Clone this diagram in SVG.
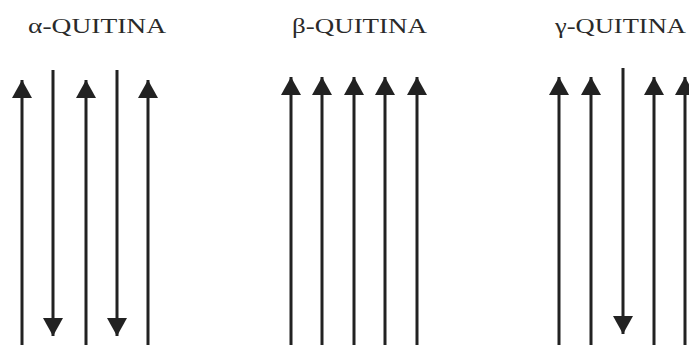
<svg xmlns="http://www.w3.org/2000/svg" width="689" height="347" viewBox="0 0 689 347">
<style>
.lbl{font-family:"Liberation Serif","Times New Roman",serif;font-size:22px;fill:#2a2a2a}
.ch{stroke:#222;stroke-width:3;fill:none}
</style>
<defs>
<marker id="ah" viewBox="0 0 18 20" refX="18" refY="10" markerWidth="18" markerHeight="20" markerUnits="userSpaceOnUse" orient="auto">
<path d="M0,0 L18,10 L0,20 Z" fill="#222"/>
</marker>
</defs>
<rect width="689" height="347" fill="#fff"/>
<g id="alpha">
<text class="lbl" x="28" y="33" textLength="138" lengthAdjust="spacingAndGlyphs">α-QUITINA</text>
<line class="ch" x1="22" y1="345" x2="22" y2="80" marker-end="url(#ah)"/>
<line class="ch" x1="53" y1="70" x2="53" y2="336" marker-end="url(#ah)"/>
<line class="ch" x1="86" y1="345" x2="86" y2="80" marker-end="url(#ah)"/>
<line class="ch" x1="117" y1="70" x2="117" y2="336" marker-end="url(#ah)"/>
<line class="ch" x1="148" y1="345" x2="148" y2="80" marker-end="url(#ah)"/>
</g>
<g id="beta">
<text class="lbl" x="292" y="33" textLength="135" lengthAdjust="spacingAndGlyphs">β-QUITINA</text>
<line class="ch" x1="291" y1="345" x2="291" y2="77" marker-end="url(#ah)"/>
<line class="ch" x1="322" y1="345" x2="322" y2="77" marker-end="url(#ah)"/>
<line class="ch" x1="354" y1="345" x2="354" y2="77" marker-end="url(#ah)"/>
<line class="ch" x1="385" y1="345" x2="385" y2="77" marker-end="url(#ah)"/>
<line class="ch" x1="417" y1="345" x2="417" y2="77" marker-end="url(#ah)"/>
</g>
<g id="gamma">
<text class="lbl" x="555" y="33" textLength="131" lengthAdjust="spacingAndGlyphs">γ-QUITINA</text>
<line class="ch" x1="559" y1="345" x2="559" y2="77" marker-end="url(#ah)"/>
<line class="ch" x1="591" y1="345" x2="591" y2="77" marker-end="url(#ah)"/>
<line class="ch" x1="623" y1="68" x2="623" y2="334" marker-end="url(#ah)"/>
<line class="ch" x1="654" y1="345" x2="654" y2="77" marker-end="url(#ah)"/>
<line class="ch" x1="685" y1="345" x2="685" y2="77" marker-end="url(#ah)"/>
</g>
</svg>
